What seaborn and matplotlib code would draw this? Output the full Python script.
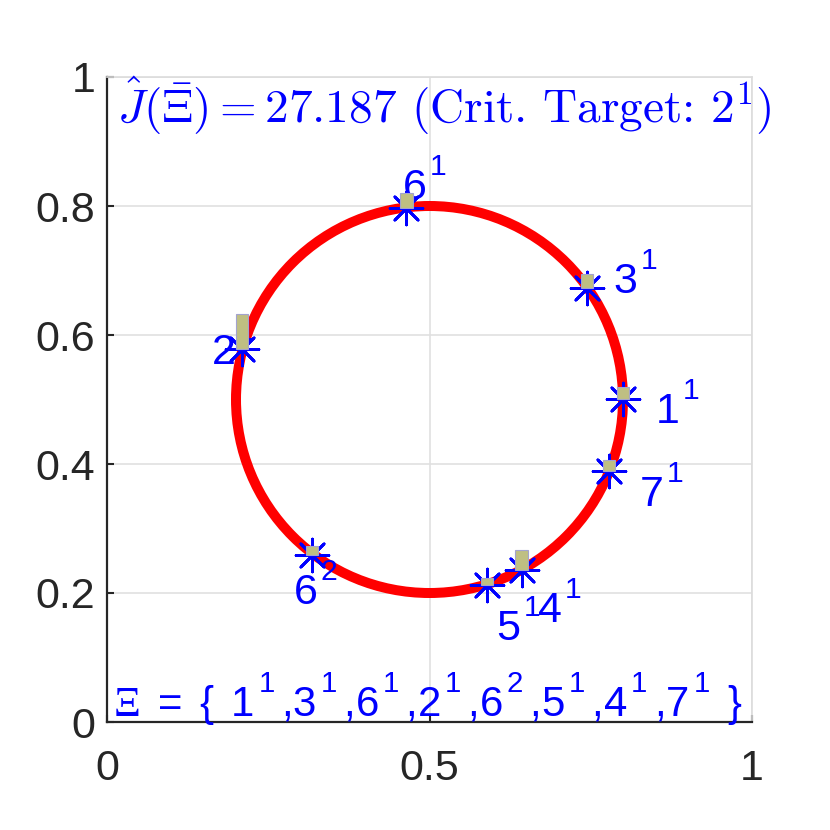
import matplotlib
matplotlib.use("Agg")
import matplotlib.pyplot as plt
import seaborn as sns

# ---- data ----
circle_center = (0.5, 0.5)
circle_radius = 0.3
label_radius = 0.35
pt_x = [0.800, 0.744, 0.464, 0.209, 0.318, 0.589, 0.643, 0.778]
pt_y = [0.500, 0.673, 0.797, 0.578, 0.259, 0.212, 0.236, 0.389]
pt_base = ["1", "3", "6", "2", "6", "5", "4", "7"]
pt_sup = ["1", "1", "1", "1", "2", "1", "1", "1"]
bar_h = [0.019, 0.022, 0.023, 0.054, 0.014, 0.012, 0.031, 0.017]
x_ticks = [0, 0.5, 1]
x_ticklabels = ["0", "0.5", "1"]
y_ticks = [0, 0.2, 0.4, 0.6, 0.8, 1]
y_ticklabels = ["0", "0.2", "0.4", "0.6", "0.8", "1"]
j_value = "27.187"
crit_target = ("2", "1")

sns.set_theme(style="white")
plt.rcParams["font.family"] = ["Liberation Sans", "DejaVu Sans"]
plt.rcParams["mathtext.fontset"] = "custom"
plt.rcParams["mathtext.rm"] = "Liberation Sans"
plt.rcParams["mathtext.it"] = "Liberation Sans:italic"
plt.rcParams["mathtext.bf"] = "Liberation Sans:bold"
plt.rcParams["mathtext.sf"] = "Liberation Sans"
plt.rcParams["mathtext.tt"] = "Liberation Serif"

# MATLAB-like superscript placement (higher, with a gap) for the sans labels
try:
    import matplotlib._mathtext as _mt

    class _MatlabSupConstants(_mt.FontConstantsBase):
        sup1 = 1.05
        delta = 0.25
        script_space = 0.30

    _mt._font_constant_mapping["Liberation Sans"] = _MatlabSupConstants
    _mt._font_constant_mapping["Liberation Serif"] = _MatlabSupConstants
except Exception:
    pass

fig = plt.figure(figsize=(8.3, 8.3), dpi=100)
ax = fig.add_axes([107 / 830, 108 / 830, 645 / 830, 645 / 830])
ax.set_xlim(0, 1)
ax.set_ylim(0, 1)

# grid & spines
ax.set_axisbelow(True)
ax.grid(True, color="#e0e0e0", linewidth=1.2)
for s in ["left", "bottom"]:
    ax.spines[s].set_color("#262626")
    ax.spines[s].set_linewidth(1.6)
for s in ["top", "right"]:
    ax.spines[s].set_color("#dcdcdc")
    ax.spines[s].set_linewidth(1.2)

ax.set_xticks(x_ticks)
ax.set_xticklabels(x_ticklabels)
ax.set_yticks(y_ticks)
ax.set_yticklabels(y_ticklabels)
ax.tick_params(axis="both", direction="in", length=5, width=1.5, color="#262626",
               labelcolor="#262626", labelsize=31, left=True, bottom=True,
               top=False, right=False)
ax.tick_params(axis="x", pad=19.5)
ax.tick_params(axis="y", pad=8.5)

# circle
ax.add_patch(plt.Circle(circle_center, circle_radius, fill=False, ec="red", lw=7.2, zorder=2))

# asterisk markers
sns.scatterplot(x=pt_x, y=pt_y, marker=(8, 2, 0), s=560, color="blue", linewidth=2.0,
                ax=ax, zorder=3, legend=False, clip_on=False)

# labels (placed radially at label_radius, MATLAB 'middle' alignment)
cx, cy = circle_center
k = label_radius / circle_radius
for x, y, b, sp in zip(pt_x, pt_y, pt_base, pt_sup):
    lx = cx + k * (x - cx)
    ly = cy + k * (y - cy)
    ax.annotate(rf"${b}^{{{sp}}}$", xy=(lx, ly), xytext=(0, -17.6),
                textcoords="offset points", color="blue", fontsize=31, ha="left",
                va="baseline", math_fontfamily="custom", zorder=4)

# bars
ax.bar(pt_x, bar_h, bottom=pt_y, width=0.0194, color="#bfbf82", edgecolor="#a3a3cf",
       linewidth=0.8, zorder=5)

# top annotation
ax.text(0.0155, 0.929,
        rf"$\hat{{J}}(\bar{{\Xi}}) = {j_value}$ (Crit. Target: ${crit_target[0]}^{{{crit_target[1]}}}$)",
        family="cmr10", math_fontfamily="cm", fontsize=34, color="blue",
        ha="left", va="baseline", zorder=6)

# bottom annotation
item_strs = [rf"{b}^{{{sp}}}" for b, sp in zip(pt_base, pt_sup)]
items = ",".join("$" + s + "$" for s in item_strs[1:])
bottom_txt = (r"$\mathtt{\Xi}\,$ = $\,${ $\," + item_strs[0] + "$," + items + " }")
ax.text(0.009, 0.0078, bottom_txt,
        fontsize=30.2, color="blue", ha="left", va="baseline",
        math_fontfamily="custom", zorder=6)

fig.savefig("out.png", dpi=100)
